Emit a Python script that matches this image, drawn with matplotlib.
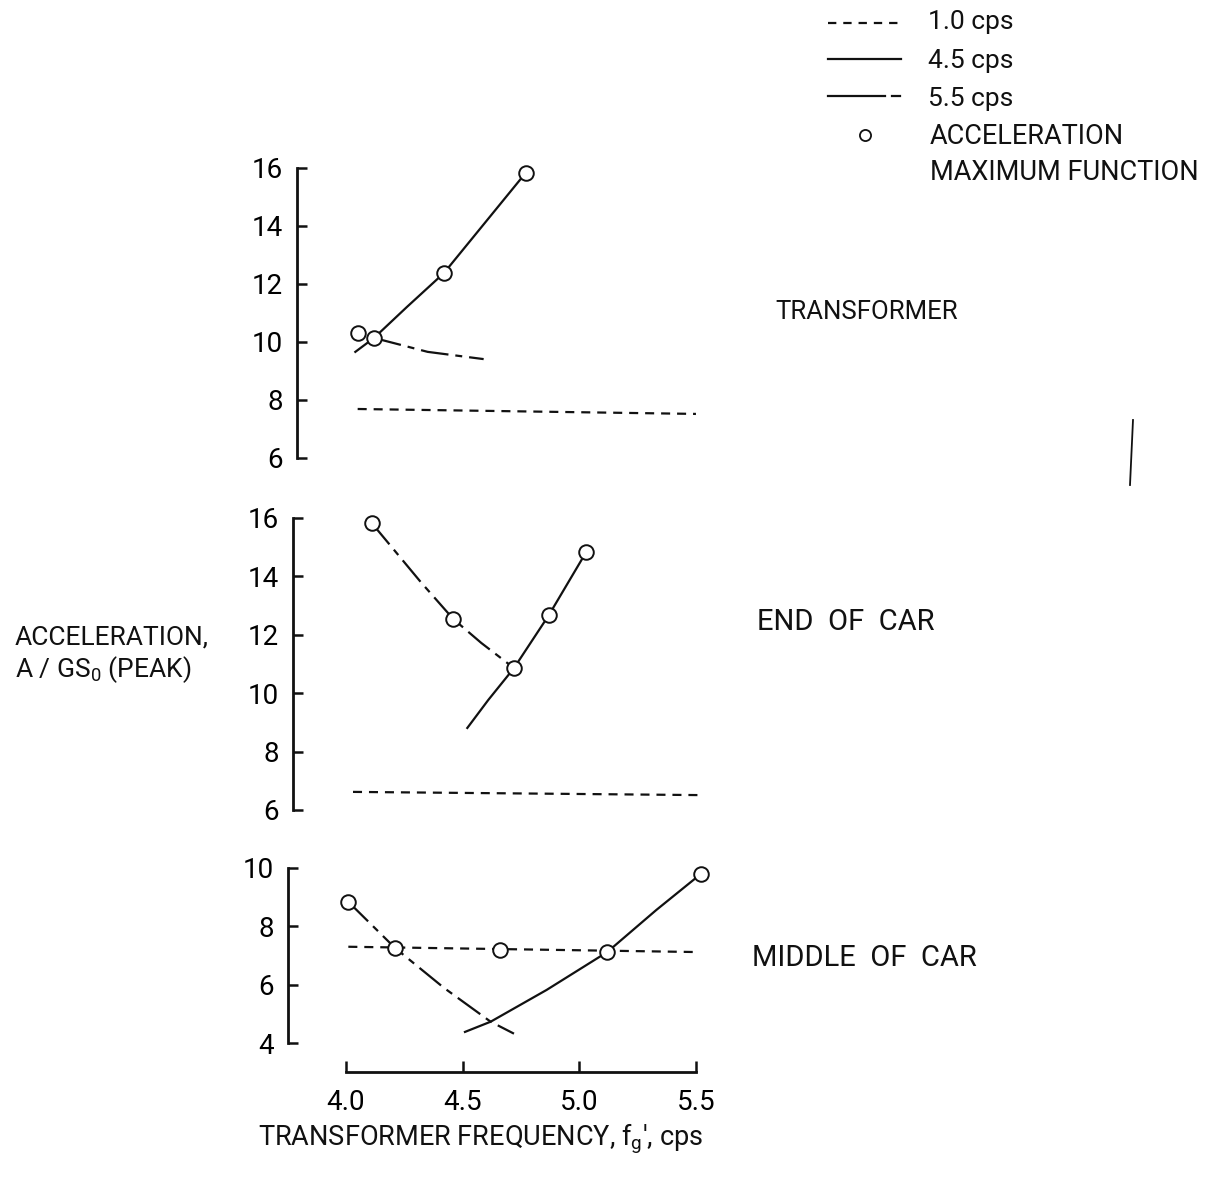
import numpy as np
import matplotlib
matplotlib.use("Agg")
import matplotlib.pyplot as plt
from matplotlib.lines import Line2D

plt.rcParams['font.family'] = ['Roboto', 'DejaVu Sans']
plt.rcParams['mathtext.fontset'] = 'custom'
plt.rcParams['mathtext.rm'] = 'Roboto'
plt.rcParams['mathtext.it'] = 'Roboto'
plt.rcParams['lines.scale_dashes'] = False

W, H = 1212, 1201

"""Curves read per panel: 1.0 cps, 4.5 cps, 5.5 cps and the maxima"""
top_x10 = [4.05, 5.50]
top_y10 = [7.69, 7.52]
top_x45 = [4.04, 4.12, 4.26, 4.42, 4.56, 4.77]
top_y45 = [9.66, 10.14, 11.20, 12.38, 13.76, 15.83]
top_x55 = [4.12, 4.35, 4.59]
top_y55 = [10.14, 9.66, 9.41]
top_xmax = [4.05, 4.12, 4.42, 4.77]
top_ymax = [10.31, 10.14, 12.38, 15.83]

mid_x10 = [4.03, 5.52]
mid_y10 = [6.62, 6.51]
mid_x45 = [4.52, 4.61, 4.72, 4.87, 5.03]
mid_y45 = [8.81, 9.77, 10.86, 12.68, 14.84]
mid_x55 = [4.11, 4.32, 4.46, 4.58, 4.72]
mid_y55 = [15.83, 13.81, 12.54, 11.72, 10.86]
mid_xmax = [4.11, 4.46, 4.72, 4.87, 5.03]
mid_ymax = [15.83, 12.54, 10.86, 12.68, 14.84]

bot_x10 = [4.01, 5.49]
bot_y10 = [7.30, 7.12]
bot_x45 = [4.51, 4.62, 4.86, 5.12, 5.33, 5.52]
bot_y45 = [4.38, 4.73, 5.82, 7.12, 8.56, 9.79]
bot_x55 = [4.01, 4.21, 4.42, 4.62, 4.72]
bot_y55 = [8.84, 7.26, 5.89, 4.73, 4.32]
bot_xmax = [4.01, 4.21, 4.66, 5.12, 5.52]
bot_ymax = [8.84, 7.26, 7.19, 7.12, 9.79]

panel_names = ["TRANSFORMER", "END  OF  CAR", "MIDDLE  OF  CAR"]
yticks_top = [6, 8, 10, 12, 14, 16]
yticks_bot = [4, 6, 8, 10]
xticks = [4.0, 4.5, 5.0, 5.5]

"""Line styles"""
lw = 1.6
dash10 = (0, (6.5, 5.0))
dash55 = (0, (20, 5, 5, 5))
black = '#111111'

fig = plt.figure(figsize=(W / 100, H / 100), dpi=100)

# panel layout in pixels: spine x, top y, bottom y
layout = [(297, 168, 458), (293, 518, 810), (288, 868, 1043)]
right_px = 720
x0_px, px_per_unit = 346, 233.3

panels = [
    (top_x10, top_y10, top_x45, top_y45, top_x55, top_y55, top_xmax, top_ymax, yticks_top),
    (mid_x10, mid_y10, mid_x45, mid_y45, mid_x55, mid_y55, mid_xmax, mid_ymax, yticks_top),
    (bot_x10, bot_y10, bot_x45, bot_y45, bot_x55, bot_y55, bot_xmax, bot_ymax, yticks_bot),
]

axes = []
for (left, ytop, ybot), p in zip(layout, panels):
    ax = fig.add_axes([left / W, 1 - ybot / H, (right_px - left) / W, (ybot - ytop) / H])
    ax.patch.set_alpha(0)
    x10, y10, x45, y45, x55, y55, xm, ym, yt = p
    ax.plot(x10, y10, color=black, lw=lw, linestyle=dash10)
    ax.plot(x45, y45, color=black, lw=lw, linestyle='-')
    ax.plot(x55, y55, color=black, lw=lw, linestyle=dash55)
    ax.plot(xm, ym, linestyle='none', marker='o', markersize=10.5,
            markerfacecolor='white', markeredgecolor=black, markeredgewidth=1.4,
            zorder=5, clip_on=False)
    ax.set_xlim(4 - (x0_px - left) / px_per_unit, 4 + (right_px - x0_px) / px_per_unit)
    ax.set_ylim(yt[0], yt[-1])
    ax.set_yticks(yt)
    for s in ['top', 'right', 'bottom']:
        ax.spines[s].set_visible(False)
    ax.spines['left'].set_linewidth(2.0)
    ax.spines['left'].set_color(black)
    ax.tick_params(axis='y', direction='in', length=7, width=1.8, color=black,
                   labelsize=20, pad=10)
    ax.tick_params(axis='x', bottom=False, labelbottom=False)
    axes.append(ax)

"""Shared frequency axis under the last panel"""
axb = axes[-1]
axb.spines['bottom'].set_visible(True)
axb.spines['bottom'].set_position(('outward', 21))
axb.spines['bottom'].set_bounds(4.0, 5.5)
axb.spines['bottom'].set_linewidth(2.0)
axb.spines['bottom'].set_color(black)
axb.set_xticks(xticks)
axb.set_xticklabels(['4.0', '4.5', '5.0', '5.5'])
axb.tick_params(axis='x', bottom=True, labelbottom=True, direction='in',
                length=8, width=1.8, color=black, labelsize=20, pad=12)


def ftext(x, y, s, **kw):
    fig.text(x / W, 1 - y / H, s, va='center', ha='left', color=black, **kw)


ftext(775, 312, panel_names[0], fontsize=18.5)
ftext(757, 622, panel_names[1], fontsize=21)
ftext(752, 958, panel_names[2], fontsize=21)

ftext(15, 637, "ACCELERATION,", fontsize=19)
ftext(15, 670, "A / GS$_0$ (PEAK)", fontsize=19)
ftext(258, 1139, "TRANSFORMER FREQUENCY, f$_g$', cps", fontsize=19.5)

"""Legend drawn in pixel coordinates"""
lg = fig.add_axes([0, 0, 1, 1])
lg.set_xlim(0, W)
lg.set_ylim(H, 0)
lg.axis('off')
lg.add_line(Line2D([828, 900], [23, 23], color=black, lw=lw, linestyle=(0, (6, 5))))
lg.add_line(Line2D([828, 901], [59, 59], color=black, lw=lw))
lg.add_line(Line2D([828, 885], [96, 96], color=black, lw=lw))
lg.add_line(Line2D([892, 900], [96, 96], color=black, lw=lw))
lg.plot([865], [135], marker='o', markersize=8, markerfacecolor='white',
        markeredgecolor=black, markeredgewidth=1.3)
ftext(928, 22, "1.0 cps", fontsize=19)
ftext(928, 61, "4.5 cps", fontsize=19)
ftext(928, 99, "5.5 cps", fontsize=19)
ftext(930, 137, "ACCELERATION", fontsize=19.5)
ftext(930, 172, "MAXIMUM FUNCTION", fontsize=19.5)

# stray pen mark at right
lg.add_line(Line2D([1133, 1130], [420, 485], color=black, lw=1.3))

fig.savefig("out.png", dpi=100)
